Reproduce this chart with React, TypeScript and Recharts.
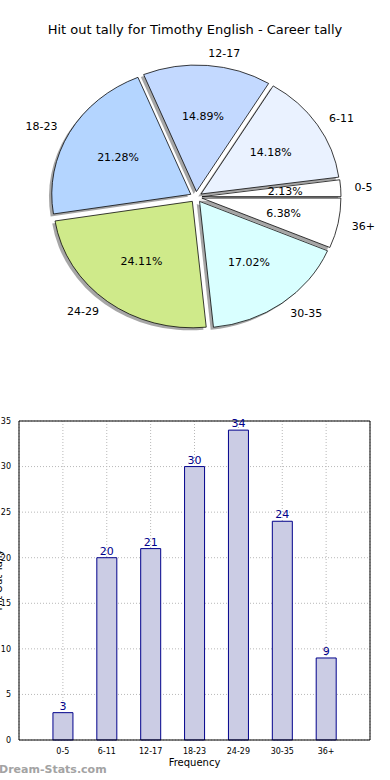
import React from 'react';
import {
  PieChart, Pie, Cell, BarChart, Bar, XAxis, YAxis, CartesianGrid, LabelList, ReferenceLine,
} from 'recharts';

// hit out tally per career game bracket
const categories = ['0-5', '6-11', '12-17', '18-23', '24-29', '30-35', '36+'];
const tally = [3, 20, 21, 30, 34, 24, 9];
const sliceColors = ['#ffffff', '#eaf2ff', '#c3d9ff', '#b4d5ff', '#cfea8a', '#d9ffff', '#ffffff'];
const yTicks = [0, 5, 10, 15, 20, 25, 30, 35];

const FONT = '"DejaVu Sans", sans-serif';
const RAD = Math.PI / 180;
const EXPLODE = 6;
const SHADOW = 2.8;

const pieData = categories.map((name, i) => ({ name, value: tally[i] }));
const barData = categories.map((name, i) => ({ x: i + 1, name, tally: tally[i] }));
const xTicks = barData.map((d) => d.x);

const total = tally.reduce((a, b) => a + b, 0);
// mid angle for each wedge, used to push it out from the centre
const midAngles = tally.map((v, i) => {
  const before = tally.slice(0, i).reduce((a, b) => a + b, 0);
  return ((before + v / 2) / total) * 360;
});
const shift = (i: number) => {
  const a = midAngles[i] * RAD;
  return { dx: EXPLODE * Math.cos(a), dy: -EXPLODE * Math.sin(a) };
};

const renderPieLabel = (props: any) => {
  const { cx, cy, midAngle, outerRadius, percent, index, name } = props;
  const c = Math.cos(-midAngle * RAD);
  const s = Math.sin(-midAngle * RAD);
  const { dx, dy } = shift(index);
  const outR = outerRadius * 1.1;
  const inR = outerRadius * 0.6;
  return (
    <g fontFamily={FONT} fontSize={11} fill="#000">
      <text
        x={cx + dx + outR * c}
        y={cy + dy + outR * s}
        textAnchor={c > 0 ? 'start' : 'end'}
        dominantBaseline="central"
      >
        {name}
      </text>
      <text
        x={cx + dx + inR * c}
        y={cy + dy + inR * s}
        textAnchor="middle"
        dominantBaseline="central"
      >
        {(percent * 100).toFixed(2)}%
      </text>
    </g>
  );
};

const App = () => {
  return (
    <div style={{ position: 'absolute', top: 0, left: 0, width: 390, height: 780, background: '#fff', overflow: 'hidden', fontFamily: FONT }}>
      <div style={{ position: 'absolute', top: 22, left: 0, width: 390, textAlign: 'center', fontSize: 13, lineHeight: '15px', color: '#000' }}>
        Hit out tally for Timothy English - Career tally
      </div>

      <div style={{ position: 'absolute', top: 0, left: 0, transform: 'scaleY(0.91)', transformOrigin: '196px 197px' }}>
        <PieChart width={390} height={360} margin={{ top: 0, right: 0, bottom: 0, left: 0 }}>
          <Pie
            data={pieData}
            dataKey="value"
            nameKey="name"
            cx={196}
            cy={197}
            outerRadius={139}
            startAngle={0}
            endAngle={360}
            isAnimationActive={false}
            legendType="none"
          >
            {pieData.map((d, i) => {
              const { dx, dy } = shift(i);
              return (
                <Cell
                  key={'sh' + d.name}
                  fill="#4d4d4d"
                  fillOpacity={0.5}
                  stroke="none"
                  transform={`translate(${dx - SHADOW},${dy + SHADOW})`}
                />
              );
            })}
          </Pie>
          <Pie
            data={pieData}
            dataKey="value"
            nameKey="name"
            cx={196}
            cy={197}
            outerRadius={139}
            startAngle={0}
            endAngle={360}
            isAnimationActive={false}
            label={renderPieLabel}
            labelLine={false}
          >
            {pieData.map((d, i) => {
              const { dx, dy } = shift(i);
              return (
                <Cell
                  key={d.name}
                  fill={sliceColors[i]}
                  stroke="#000"
                  strokeWidth={0.8}
                  transform={`translate(${dx},${dy})`}
                />
              );
            })}
          </Pie>
        </PieChart>
      </div>

      <div style={{ position: 'absolute', top: 400, left: 0 }}>
        <BarChart width={390} height={380} data={barData} margin={{ top: 21, right: 20, left: 0, bottom: 12 }}>
          <CartesianGrid stroke="#b8b8b8" strokeDasharray="1 2" />
          <XAxis
            dataKey="x"
            type="number"
            domain={[0, 8]}
            ticks={xTicks}
            tickFormatter={(v: number) => categories[v - 1] ?? ''}
            tick={{ fontSize: 8, fill: '#000', fontFamily: FONT }}
            tickLine={false}
            axisLine={{ stroke: '#000' }}
            height={28}
            interval={0}
            label={{ value: 'Frequency', position: 'insideBottom', offset: 2, fontSize: 10, fill: '#000', fontFamily: FONT }}
          />
          <YAxis
            type="number"
            domain={[0, 35]}
            ticks={yTicks}
            tick={{ fontSize: 8, fill: '#000', fontFamily: FONT }}
            tickLine={false}
            axisLine={{ stroke: '#000' }}
            width={19}
            tickMargin={2}
          />
          <ReferenceLine y={35} stroke="#000" strokeWidth={1} />
          <ReferenceLine x={8} stroke="#000" strokeWidth={1} />
          <Bar dataKey="tally" fill="#cbcce4" stroke="#00008b" strokeWidth={1} barSize={20} isAnimationActive={false}>
            <LabelList dataKey="tally" position="top" offset={3} fill="#00008b" fontSize={11} fontFamily={FONT} />
          </Bar>
        </BarChart>
      </div>

      <svg style={{ position: 'absolute', top: 540, left: 0 }} width={10} height={80}>
        <text transform="translate(2,40) rotate(-90)" textAnchor="middle" fontSize={10} fill="#000" fontFamily={FONT}>
          Hit Out Tally
        </text>
      </svg>

      <div style={{ position: 'absolute', top: 763, left: -1, fontSize: 11, fontWeight: 'bold', color: '#a3a3a3', lineHeight: '13px' }}>
        Dream-Stats.com
      </div>
    </div>
  );
};

export default App;
